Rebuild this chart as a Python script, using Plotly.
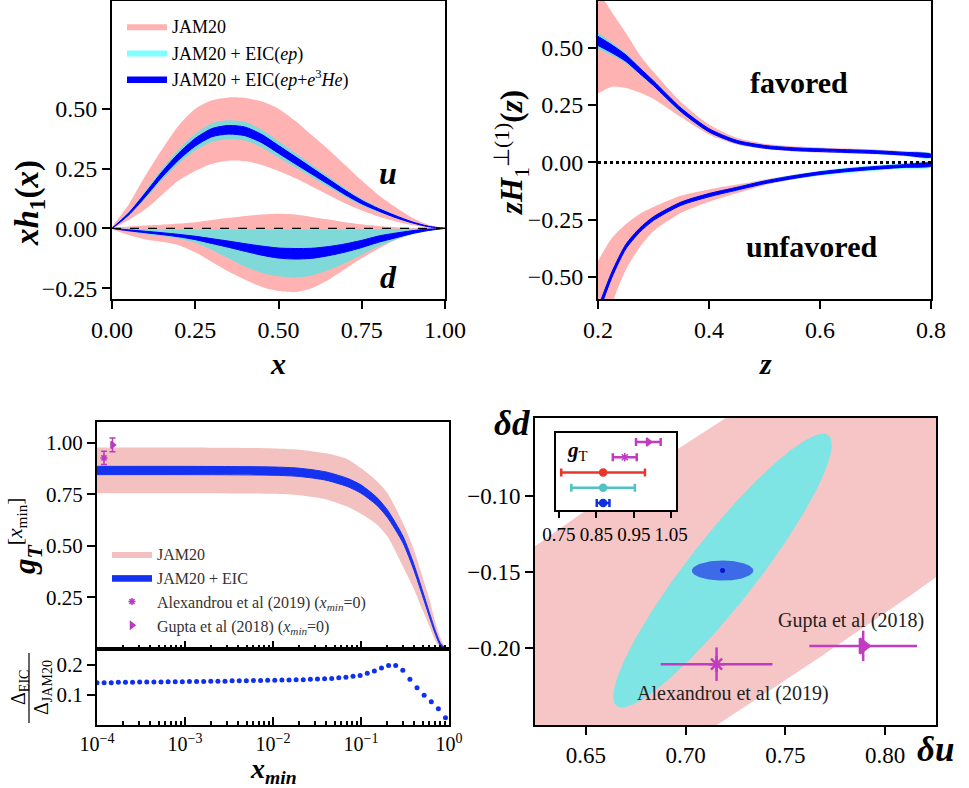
import numpy as np
import plotly.graph_objects as go

W, H = 969, 788
SERIF = "Liberation Serif"

# ---------------- Top-left: x h1(x) ----------------
x_grid = [0.0, 0.05, 0.1, 0.15, 0.2, 0.25, 0.3, 0.35, 0.4, 0.45, 0.5,
          0.55, 0.6, 0.65, 0.7, 0.75, 0.8, 0.85, 0.9, 0.95, 1.0]
u_jam_hi = [0, 0.10, 0.22, 0.33, 0.43, 0.50, 0.535, 0.547, 0.545, 0.53, 0.50,
            0.45, 0.39, 0.33, 0.265, 0.20, 0.14, 0.09, 0.045, 0.015, 0]
u_jam_lo = [0, 0.035, 0.08, 0.14, 0.20, 0.24, 0.27, 0.283, 0.28, 0.265, 0.24,
            0.21, 0.175, 0.14, 0.105, 0.075, 0.05, 0.03, 0.014, 0.004, 0]
u_mid = [0, 0.06, 0.14, 0.225, 0.30, 0.36, 0.40, 0.412, 0.405, 0.375, 0.33,
         0.285, 0.24, 0.195, 0.15, 0.11, 0.078, 0.05, 0.026, 0.008, 0]
u_ep_err = [0, 0.008, 0.016, 0.024, 0.03, 0.035, 0.039, 0.04, 0.039, 0.037, 0.034,
            0.03, 0.026, 0.022, 0.018, 0.014, 0.01, 0.007, 0.004, 0.001, 0]
u_he_err = [0, 0.004, 0.008, 0.011, 0.014, 0.016, 0.017, 0.018, 0.018, 0.017, 0.016,
            0.015, 0.013, 0.011, 0.009, 0.007, 0.005, 0.004, 0.002, 0.001, 0]
d_jam_hi = [0, 0.008, 0.012, 0.015, 0.02, 0.026, 0.035, 0.044, 0.052, 0.058, 0.061,
            0.058, 0.048, 0.037, 0.026, 0.017, 0.01, 0.005, 0.002, 0.001, 0]
d_jam_lo = [0, -0.028, -0.046, -0.056, -0.07, -0.1, -0.14, -0.18, -0.215, -0.245, -0.262,
            -0.266, -0.25, -0.215, -0.17, -0.125, -0.085, -0.05, -0.025, -0.01, 0]
d_ep_hi = [0, -0.002, -0.004, -0.005, -0.006, -0.006, -0.006, -0.006, -0.006, -0.006, -0.006,
           -0.006, -0.006, -0.006, -0.006, -0.005, -0.004, -0.003, -0.002, -0.001, 0]
d_ep_lo = [0, -0.012, -0.024, -0.032, -0.043, -0.06, -0.09, -0.125, -0.16, -0.185, -0.2,
           -0.205, -0.197, -0.175, -0.145, -0.11, -0.075, -0.048, -0.027, -0.01, 0]
d_mid = [0, -0.008, -0.015, -0.022, -0.03, -0.04, -0.053, -0.066, -0.08, -0.093, -0.103,
         -0.106, -0.104, -0.095, -0.082, -0.065, -0.045, -0.03, -0.016, -0.006, 0]
d_he_err = [0, 0.002, 0.003, 0.004, 0.005, 0.007, 0.01, 0.013, 0.016, 0.019, 0.021,
            0.022, 0.021, 0.019, 0.017, 0.015, 0.013, 0.01, 0.006, 0.003, 0]

# ---------------- Top-right: z H1^(1)(z) ----------------
z_grid = [0.2, 0.225, 0.25, 0.275, 0.3, 0.35, 0.4, 0.45, 0.5, 0.55, 0.6, 0.65, 0.7, 0.75, 0.8]
fav_mid = [0.53, 0.495, 0.455, 0.40, 0.345, 0.228, 0.14, 0.09, 0.068, 0.058, 0.053, 0.049, 0.045, 0.038, 0.029]
fav_he_err = [0.02, 0.017, 0.014, 0.012, 0.01, 0.008, 0.007, 0.006, 0.006, 0.006, 0.006, 0.006, 0.006, 0.006, 0.006]
fav_ep_err = [0.035, 0.028, 0.022, 0.018, 0.015, 0.012, 0.01, 0.009, 0.008, 0.008, 0.008, 0.008, 0.009, 0.01, 0.011]
fav_jam_hi = [0.75, 0.655, 0.565, 0.47, 0.395, 0.262, 0.165, 0.107, 0.081, 0.07, 0.065, 0.06, 0.056, 0.049, 0.04]
fav_jam_lo = [0.30, 0.33, 0.325, 0.305, 0.277, 0.197, 0.122, 0.078, 0.058, 0.048, 0.043, 0.039, 0.035, 0.029, 0.02]
unf_mid = [-0.65, -0.49, -0.368, -0.296, -0.245, -0.18, -0.143, -0.115, -0.087, -0.065, -0.047, -0.034, -0.024, -0.016, -0.01]
unf_he_err = [0.015, 0.012, 0.01, 0.009, 0.008, 0.007, 0.007, 0.006, 0.006, 0.006, 0.006, 0.006, 0.006, 0.006, 0.006]
unf_ep_err = [0.02, 0.016, 0.013, 0.011, 0.01, 0.009, 0.009, 0.009, 0.009, 0.01, 0.011, 0.012, 0.012, 0.012, 0.012]
unf_jam_hi = [-0.43, -0.33, -0.27, -0.225, -0.195, -0.145, -0.118, -0.097, -0.075, -0.056, -0.04, -0.028, -0.018, -0.011, -0.005]
unf_jam_lo = [-0.85, -0.62, -0.47, -0.37, -0.30, -0.22, -0.172, -0.135, -0.1, -0.075, -0.055, -0.041, -0.03, -0.021, -0.015]

# ---------------- Bottom-left: g_T^[xmin] ----------------
gT_x = [1e-4, 1e-3, 1e-2, 0.02, 0.04, 0.07, 0.1, 0.15, 0.2, 0.3, 0.4, 0.5, 0.6, 0.7, 0.8, 0.9, 1.0]
gT_mid = [0.865, 0.865, 0.862, 0.856, 0.838, 0.807, 0.775, 0.717, 0.655, 0.53, 0.395, 0.27, 0.165, 0.08, 0.022, 0.003, 0.0]
gT_eic_err = [0.02, 0.02, 0.02, 0.02, 0.02, 0.02, 0.02, 0.019, 0.018, 0.016, 0.014, 0.012, 0.01, 0.008, 0.006, 0.004, 0.003]
gT_jam_hi = [0.976, 0.976, 0.972, 0.966, 0.948, 0.92, 0.877, 0.815, 0.755, 0.61, 0.48, 0.35, 0.24, 0.13, 0.054, 0.012, 0.0]
gT_jam_lo = [0.755, 0.755, 0.752, 0.745, 0.725, 0.69, 0.655, 0.605, 0.545, 0.40, 0.29, 0.19, 0.11, 0.04, 0.006, 0.0, 0.0]

ratio_xmin = np.logspace(-4, -0.04, 50)
ratio_vals = [0.141, 0.141, 0.141, 0.142, 0.142, 0.142, 0.143, 0.143, 0.143, 0.143, 0.144, 0.144,
              0.144, 0.145, 0.145, 0.145, 0.146, 0.146, 0.146, 0.147, 0.147, 0.147, 0.148, 0.148, 0.149,
              0.149, 0.150, 0.150, 0.151, 0.151, 0.152, 0.153, 0.154, 0.155, 0.157, 0.159, 0.162,
              0.165, 0.172, 0.18, 0.19, 0.198, 0.198, 0.182, 0.152, 0.124, 0.099, 0.077, 0.054, 0.024]

# lattice results (plotted at x_min ~ 0 positions on log axis)
lat_names = ["Alexandrou et al (2019)", "Gupta et al (2018)"]
lat_symbols = ["asterisk-open", "triangle-right"]
lat_xpos = [1.2e-4, 1.5e-4]
lat_gT = [0.926, 0.989]
lat_gT_err = [0.032, 0.033]
lat_du = [0.7155, 0.789]
lat_du_err = [0.028, 0.027]
lat_dd = [-0.2105, -0.1985]
lat_dd_err = [0.011, 0.010]

# ---------------- Bottom-right: (δu, δd) ellipses ----------------
ell_names = ["JAM20", "JAM20 + EIC(ep)", "JAM20 + EIC(ep+e3He)"]
ell_cu = [0.7185, 0.7185, 0.7185]
ell_cd = [-0.149, -0.149, -0.149]
ell_su = [0.40, 0.0548, 0.0154]
ell_sd = [0.354, 0.090, 0.0066]
ell_rho = [0.96, 0.92, 0.0]
ell_colors = ["#f6c6c6", "#7fe4e4", "#3d6ae6"]

# inset g_T summary (rows top->bottom)
inset_rows = [5, 4, 3, 2, 1]
inset_gT = [0.989, 0.926, 0.868, 0.868, 0.868]
inset_err = [0.033, 0.032, 0.112, 0.085, 0.017]
inset_colors = ["#c03cc0", "#c03cc0", "#e8372a", "#4fc3c3", "#1030e0"]
inset_symbols = ["triangle-right", "asterisk-open", "circle", "circle", "circle"]

PINK = "rgba(255,0,0,0.3)"
CYAN = "rgba(0,255,255,0.5)"
BLUE = "rgb(0,0,255)"

fig = go.Figure()


def band(x, lo, hi, color, xa, ya, name=None, show=False, legend="legend", group=None, lw=0):
    xx = list(x) + list(x)[::-1]
    yy = list(hi) + list(lo)[::-1]
    return go.Scatter(x=xx, y=yy, mode="lines", fill="toself", fillcolor=color,
                      line=dict(width=lw, color=color, shape="spline", smoothing=0.7),
                      xaxis=xa, yaxis=ya, name=name, showlegend=show, legend=legend,
                      legendgroup=group, hoverinfo="skip")


u_ep_lo = [m - e for m, e in zip(u_mid, u_ep_err)]
u_ep_hi = [m + e for m, e in zip(u_mid, u_ep_err)]
u_he_lo = [m - e for m, e in zip(u_mid, u_he_err)]
u_he_hi = [m + e for m, e in zip(u_mid, u_he_err)]
d_he_lo = [m - e for m, e in zip(d_mid, d_he_err)]
d_he_hi = [m + e for m, e in zip(d_mid, d_he_err)]

# Top-left bands
fig.add_trace(band(x_grid, u_jam_lo, u_jam_hi, PINK, "x", "y", "JAM20", True, "legend", "jam"))
fig.add_trace(band(x_grid, d_jam_lo, d_jam_hi, PINK, "x", "y", "JAM20", False, "legend", "jam"))
fig.add_trace(band(x_grid, u_ep_lo, u_ep_hi, CYAN, "x", "y", "JAM20 + EIC(<i>ep</i>)", True, "legend", "ep"))
fig.add_trace(band(x_grid, d_ep_lo, d_ep_hi, CYAN, "x", "y", "JAM20 + EIC(<i>ep</i>)", False, "legend", "ep"))
fig.add_trace(band(x_grid, u_he_lo, u_he_hi, BLUE, "x", "y",
                   "JAM20 + EIC(<i>ep</i>+<i>e</i><sup>3</sup><i>He</i>)", True, "legend", "he", lw=1))
fig.add_trace(band(x_grid, d_he_lo, d_he_hi, BLUE, "x", "y",
                   "JAM20 + EIC(<i>ep</i>+<i>e</i><sup>3</sup><i>He</i>)", False, "legend", "he", lw=1))

# Top-right bands
for mid, ep, he, jlo, jhi in [(fav_mid, fav_ep_err, fav_he_err, fav_jam_lo, fav_jam_hi),
                              (unf_mid, unf_ep_err, unf_he_err, unf_jam_lo, unf_jam_hi)]:
    fig.add_trace(band(z_grid, jlo, jhi, PINK, "x2", "y2"))
    fig.add_trace(band(z_grid, [m - e for m, e in zip(mid, ep)], [m + e for m, e in zip(mid, ep)], CYAN, "x2", "y2"))
    fig.add_trace(band(z_grid, [m - e for m, e in zip(mid, he)], [m + e for m, e in zip(mid, he)], BLUE, "x2", "y2", lw=1))

# Bottom-left main
BL_PINK = "#f4c1c1"
BL_BLUE = "#1432f0"
fig.add_trace(band(gT_x, gT_jam_lo, gT_jam_hi, BL_PINK, "x3", "y3", "JAM20", True, "legend2", "bj"))
fig.add_trace(band(gT_x, [m - e for m, e in zip(gT_mid, gT_eic_err)], [m + e for m, e in zip(gT_mid, gT_eic_err)],
                   BL_BLUE, "x3", "y3", "JAM20 + EIC", True, "legend2", "be", lw=1))
for i in range(2):
    fig.add_trace(go.Scatter(
        x=[lat_xpos[i]], y=[lat_gT[i]], mode="markers", xaxis="x3", yaxis="y3",
        marker=dict(symbol=lat_symbols[i], size=6, color="#b83cc0", line=dict(width=1.5, color="#b83cc0")),
        error_y=dict(type="data", array=[lat_gT_err[i]], color="#b83cc0", thickness=1.5, width=3),
        name=lat_names[i] + " (<i>x</i><sub><i>min</i></sub>=0)", legend="legend2", showlegend=True,
        legendgroup="lat%d" % i))

# ratio
fig.add_trace(go.Scatter(x=ratio_xmin, y=ratio_vals, mode="markers", xaxis="x4", yaxis="y4",
                         marker=dict(size=5, color="#1030f0"), showlegend=False))

# Bottom-right ellipses
t = np.linspace(0, 2 * np.pi, 600)
for i in range(3):
    uu = ell_cu[i] + ell_su[i] * np.cos(t)
    dd = ell_cd[i] + ell_sd[i] * (ell_rho[i] * np.cos(t) + np.sqrt(1 - ell_rho[i] ** 2) * np.sin(t))
    fig.add_trace(go.Scatter(x=uu, y=dd, mode="lines", fill="toself", fillcolor=ell_colors[i],
                             line=dict(width=0, color=ell_colors[i]), xaxis="x5", yaxis="y5",
                             showlegend=False, hoverinfo="skip"))
fig.add_trace(go.Scatter(x=[ell_cu[2]], y=[ell_cd[2]], mode="markers", xaxis="x5", yaxis="y5",
                         marker=dict(size=5, color="#0a14d0"), showlegend=False))
for i in range(2):
    fig.add_trace(go.Scatter(
        x=[lat_du[i]], y=[lat_dd[i]], mode="markers", xaxis="x5", yaxis="y5",
        marker=dict(symbol=lat_symbols[i], size=13, color="#c03cc0", line=dict(width=2.5, color="#c03cc0")),
        error_x=dict(type="data", array=[lat_du_err[i]], color="#c03cc0", thickness=2.5, width=0),
        error_y=dict(type="data", array=[lat_dd_err[i]], color="#c03cc0", thickness=2.5, width=0),
        showlegend=False))

# inset
for i in range(5):
    fig.add_trace(go.Scatter(
        x=[inset_gT[i]], y=[inset_rows[i]], mode="markers", xaxis="x6", yaxis="y6",
        marker=dict(symbol=inset_symbols[i], size=7, color=inset_colors[i], line=dict(width=1.5, color=inset_colors[i])),
        error_x=dict(type="data", array=[inset_err[i]], color=inset_colors[i], thickness=2.5, width=4),
        showlegend=False))

# ---------------- Layout ----------------
def px_x(p):
    return p / W


def px_y(p):
    return 1 - p / H


axis_common = dict(showline=True, linecolor="black", linewidth=2, mirror=True, showgrid=False,
                   zeroline=False, ticks="outside", ticklen=8, tickwidth=1.5, tickcolor="black")


def ax(**kw):
    d = dict(axis_common)
    d.update(kw)
    return d


tick_top = dict(family=SERIF, size=24, color="black")
tick_bl = dict(family=SERIF, size=21, color="black")
tick_br = dict(family=SERIF, size=23, color="black")

log_ticks = [1e-4, 1e-3, 1e-2, 1e-1, 1e0]
log_ticktext = ["10<sup>−4</sup>", "10<sup>−3</sup>", "10<sup>−2</sup>", "10<sup>−1</sup>", "10<sup>0</sup>"]

fig.update_layout(
    width=W, height=H, margin=dict(l=0, r=0, t=0, b=0, autoexpand=False),
    paper_bgcolor="white", plot_bgcolor="white",
    font=dict(family=SERIF, color="black"),
    xaxis=ax(domain=[px_x(112), px_x(445)], range=[0, 1], tickvals=[0, 0.25, 0.5, 0.75, 1.0],
             tickformat=".2f", tickfont=tick_top, anchor="y"),
    yaxis=ax(domain=[px_y(299), px_y(1)], range=[-0.295, 0.95], tickvals=[-0.25, 0, 0.25, 0.5],
             tickformat=".2f", tickfont=tick_top, anchor="x"),
    xaxis2=ax(domain=[px_x(598), px_x(931)], range=[0.2, 0.8], tickvals=[0.2, 0.4, 0.6, 0.8],
              tickformat=".1f", tickfont=tick_top, anchor="y2"),
    yaxis2=ax(domain=[px_y(299), px_y(1)], range=[-0.596, 0.704], tickvals=[-0.5, -0.25, 0, 0.25, 0.5],
              tickformat=".2f", tickfont=tick_top, anchor="x2"),
    xaxis3=ax(domain=[px_x(97), px_x(449)], type="log", range=[-4, 0], showticklabels=False,
              ticks="inside", tickvals=log_ticks, anchor="y3",
              minor=dict(ticks="inside", ticklen=4, tickcolor="black", dtick="D1")),
    yaxis3=ax(domain=[px_y(649), px_y(422)], range=[0, 1.1], tickvals=[0.25, 0.5, 0.75, 1.0],
              tickformat=".2f", tickfont=tick_bl, anchor="x3"),
    xaxis4=ax(domain=[px_x(97), px_x(449)], type="log", range=[-4, 0], tickvals=log_ticks,
              ticktext=log_ticktext, ticks="inside", tickfont=dict(family=SERIF, size=20, color="black"),
              anchor="y4", minor=dict(ticks="inside", ticklen=4, tickcolor="black", dtick="D1")),
    yaxis4=ax(domain=[px_y(725), px_y(649)], range=[0, 0.253], tickvals=[0.1, 0.2],
              tickformat=".1f", tickfont=tick_bl, anchor="x4"),
    xaxis5=ax(domain=[px_x(535), px_x(936)], range=[0.6245, 0.8255], tickvals=[0.65, 0.7, 0.75, 0.8],
              tickformat=".2f", tickfont=tick_br, anchor="y5"),
    yaxis5=ax(domain=[px_y(725), px_y(418)], range=[-0.2505, -0.0487], tickvals=[-0.2, -0.15, -0.1],
              tickformat=".2f", tickfont=tick_br, anchor="x5"),
    xaxis6=ax(domain=[px_x(556), px_x(676)], range=[0.742, 1.063], tickvals=[0.75, 0.85, 0.95, 1.05],
              tickformat=".2f", tickfont=dict(family=SERIF, size=19, color="black"), anchor="y6", ticklen=6),
    yaxis6=ax(domain=[px_y(510), px_y(433)], range=[0.54, 5.59], showticklabels=False, ticks="",
              anchor="x6"),
    legend=dict(x=px_x(122), y=px_y(8), xanchor="left", yanchor="top", bgcolor="rgba(0,0,0,0)",
                font=dict(family=SERIF, size=18, color="black"), itemwidth=40, tracegroupgap=0),
    legend2=dict(x=px_x(107), y=px_y(537), xanchor="left", yanchor="top", bgcolor="rgba(0,0,0,0)",
                 font=dict(family=SERIF, size=16, color="#333333"), itemwidth=40, tracegroupgap=0),
)

shapes = [
    dict(type="line", xref="x domain", yref="y", x0=0, x1=1, y0=0, y1=0,
         line=dict(color="black", width=1.2, dash="dash"), layer="above"),
    dict(type="line", xref="x2 domain", yref="y2", x0=0, x1=1, y0=0, y1=0,
         line=dict(color="black", width=3, dash="dot"), layer="above"),
    # fraction bar of the ratio-panel label
    dict(type="line", xref="paper", yref="paper", x0=px_x(29), x1=px_x(29), y0=px_y(653), y1=px_y(723),
         line=dict(color="black", width=1.2)),
]
fig.update_layout(shapes=shapes)

ann = []


def A(text, x, y, size, xref="paper", yref="paper", angle=0, color="black", **kw):
    d = dict(text=text, x=x, y=y, xref=xref, yref=yref, showarrow=False, textangle=angle,
             font=dict(family=SERIF, size=size, color=color), xanchor="center", yanchor="middle")
    d.update(kw)
    ann.append(d)


# top-left
A("<b><i>u</i></b>", 0.83, 0.233, 32, "x", "y")
A("<b><i>d</i></b>", 0.83, -0.204, 32, "x", "y")
A("<b><i>xh</i><sub>1</sub>(<i>x</i>)</b>", px_x(30), px_y(203), 33, angle=-90)
A("<b><i>x</i></b>", px_x(278), px_y(363), 30)
# top-right
A("<b>favored</b>", 0.563, 0.35, 30, "x2", "y2")
A("<b>unfavored</b>", 0.584, -0.368, 30, "x2", "y2")
A("<b><i>zH</i></b><sub>1</sub><sup>⊥(1)</sup><b>(<i>z</i>)</b>", px_x(512), px_y(152), 31, angle=-90)
A("<b><i>z</i></b>", px_x(765), px_y(363), 30)
# bottom-left
A("<b><i>g</i></b><sub><b><i>T</i></b></sub><sup>[<i>x</i><sub>min</sub>]</sup>", px_x(25), px_y(536), 31, angle=-90)
A("Δ<sub>EIC</sub>", px_x(19), px_y(688), 20, angle=-90)
A("Δ<sub>JAM20</sub>", px_x(42), px_y(688), 20, angle=-90)
A("<b><i>x</i><sub><i>min</i></sub></b>", px_x(273), px_y(770), 28)
# bottom-right
A("<b><i>δd</i></b>", px_x(512), px_y(424), 35)
A("<b><i>δu</i></b>", px_x(935), px_y(749), 35)
A("Gupta et al (2018)", 0.783, -0.1816, 20, "x5", "y5", color="#222222")
A("Alexandrou et al (2019)", 0.7235, -0.2296, 20, "x5", "y5", color="#222222")
A("<b><i>g</i></b><sub>T</sub>", px_x(577), px_y(451), 21)

fig.update_layout(annotations=ann)

fig.write_html("out.html", config={"displayModeBar": False},
               post_script="document.body.style.margin='0px';")
